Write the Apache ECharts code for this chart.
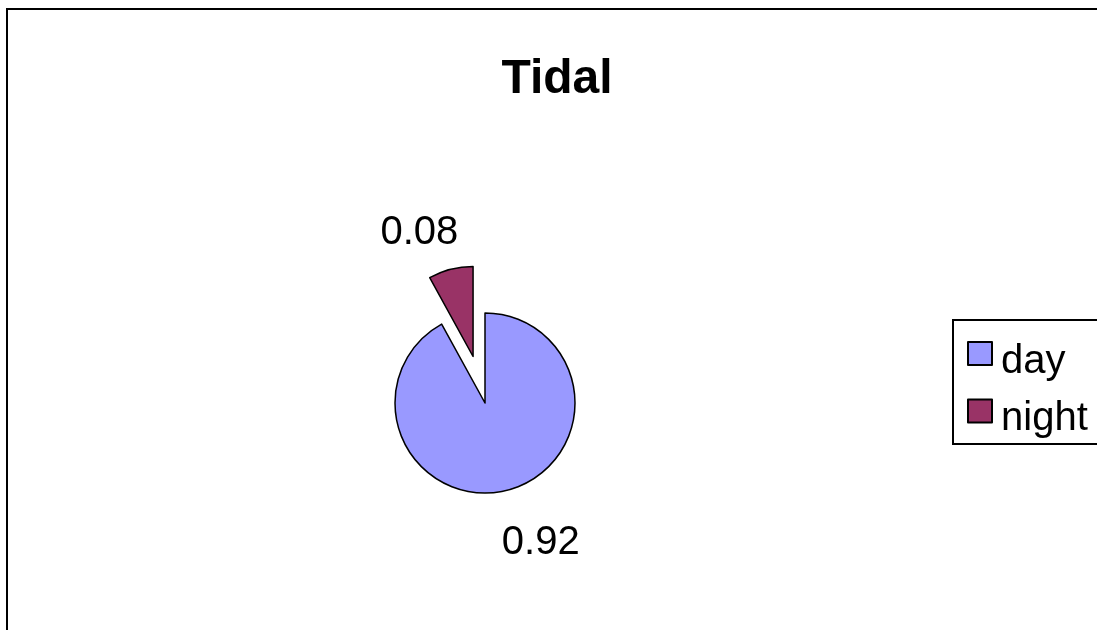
<!DOCTYPE html>
<html>
<head>
<meta charset="utf-8">
<title>Tidal</title>
<script src="https://cdn.jsdelivr.net/npm/echarts@6/dist/echarts.min.js"></script>
<style>
    html, body { margin: 0; padding: 0; background: #fff; }
    #chart { width: 1097px; height: 630px; }
</style>
</head>
<body>
<div id="chart"></div>
<script>
var categories = ["day", "night"];
var values = [0.92, 0.08];
var colors = ["#9999FF", "#993366"];

(function() {
    var chart = echarts.init(document.getElementById("chart"), null, { renderer: "canvas" }),
        font = "'Liberation Sans', Arial, sans-serif";

    // label spots, tuned per slice
    var lineLen = [54, 38],
        lineLen2 = [-24, -22];

    var pieData = categories.map(function(name, i) {
        return {
            name: name,
            value: values[i],
            selected: i === 1,
            itemStyle: { color: colors[i] },
            labelLine: { show: false, length: lineLen[i], length2: lineLen2[i] }
        };
    });

    var option = {
        animation: false,
        backgroundColor: "#fff",
        graphic: [{
            type: "rect",
            shape: { x: 7, y: 9, width: 1200, height: 1000 },
            style: { fill: "none", stroke: "#000", lineWidth: 2 },
            z: -1
        }],
        title: {
            text: "Tidal",
            left: 552,
            top: 51,
            textAlign: "center",
            textStyle: { fontFamily: font, fontSize: 48, fontWeight: "bold", color: "#000" }
        },
        legend: {
            orient: "vertical",
            left: 953,
            top: 320,
            data: categories,
            icon: "rect",
            itemWidth: 24,
            itemHeight: 23,
            itemGap: 17,
            padding: [21, 40, 5, 14],
            borderColor: "#000",
            borderWidth: 2,
            selectedMode: false,
            formatter: function(name) { return "{t|" + name + "}"; },
            textStyle: {
                fontFamily: font, fontSize: 40, color: "#000",
                rich: { t: { fontFamily: font, fontSize: 40, color: "#000", padding: [16, 0, 0, 4] } }
            }
        },
        series: [{
            type: "pie",
            center: [485, 403],
            radius: 90,
            startAngle: 90,
            clockwise: true,
            selectedMode: "single",
            selectedOffset: 48,
            avoidLabelOverlap: false,
            itemStyle: { borderColor: "#000", borderWidth: 1.5 },
            emphasis: { disabled: true },
            label: {
                show: true,
                position: "outside",
                fontFamily: font,
                fontSize: 40,
                color: "#000",
                formatter: function(p) { return p.value.toFixed(2); }
            },
            data: pieData
        }]
    };

    chart.setOption(option);
}());
</script>
</body>
</html>
